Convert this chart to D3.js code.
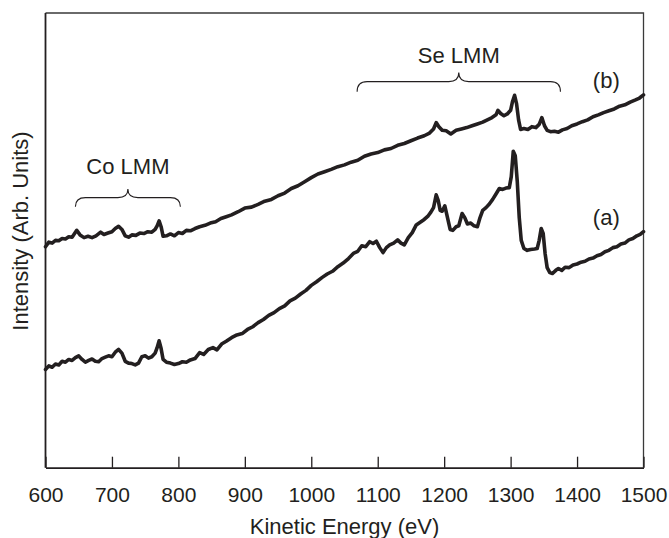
<!DOCTYPE html>
<html>
<head>
<meta charset="utf-8">
<script src="https://cdn.jsdelivr.net/npm/d3@7/dist/d3.min.js"></script>
<style>
  html, body { margin: 0; padding: 0; background: #fff; }
  svg { display: block; }
  text { font-family: "Liberation Sans", Arial, sans-serif; fill: #231f20; }
</style>
</head>
<body>
<svg id="chart" width="669" height="538"></svg>
<script>
// ---- Data (intensity in arbitrary units, 0..100 of the plot height) ----
const xTicks = [600, 700, 800, 900, 1000, 1100, 1200, 1300, 1400, 1500];

// Curve (b) – upper spectrum
const energyB = [600,605,610,615,620,625,630,635,640,647,652,658,664,670,676,683,688,694,700,705,710,715,720,725,730,736,742,748,754,760,765,768,771,774,777,782,788,794,800,806,812,818,825,832,840,848,856,864,872,880,890,900,910,920,930,940,950,960,970,980,990,1000,1010,1020,1030,1040,1050,1060,1070,1080,1090,1100,1110,1120,1130,1140,1150,1160,1170,1178,1184,1188,1192,1197,1203,1210,1218,1226,1234,1242,1250,1258,1265,1272,1278,1281,1285,1290,1295,1300,1303,1306,1309,1312,1315,1320,1326,1332,1338,1343,1347,1351,1355,1360,1366,1372,1378,1385,1392,1400,1408,1416,1424,1432,1440,1448,1456,1464,1472,1480,1488,1494,1500];
const intensityB = [48.6,49.6,49.4,50.0,49.9,50.4,50.3,50.8,50.7,52.2,51.2,50.6,50.9,50.6,51.0,51.8,51.3,51.6,51.9,52.6,53.1,52.4,51.0,50.7,51.2,51.1,51.6,51.5,51.9,51.8,52.4,53.2,54.3,53.0,50.9,51.0,51.4,51.0,51.7,51.5,52.2,52.1,52.6,53.0,53.3,53.8,54.1,54.8,55.2,55.6,56.3,57.1,57.3,57.9,58.6,59.0,59.8,60.4,61.4,62.0,62.9,63.8,64.6,65.1,65.6,66.2,66.6,67.2,67.6,68.5,69.0,69.3,69.9,70.2,70.9,71.3,71.9,72.5,73.0,73.6,74.5,75.9,75.0,74.2,74.1,73.4,74.2,74.5,74.8,75.2,75.6,76.0,76.5,77.0,77.6,78.6,77.9,77.4,77.8,78.6,80.6,81.9,80.0,76.5,74.4,74.6,74.4,75.0,74.8,75.5,77.0,75.2,74.2,73.9,74.0,73.8,74.3,74.6,75.2,75.6,76.1,76.5,77.2,77.6,78.1,78.5,78.9,79.5,79.8,80.4,80.9,81.3,82.0];

// Curve (a) – lower spectrum
const energyA = [600,605,610,615,620,625,630,635,640,645,650,655,660,665,670,675,680,685,690,695,700,705,710,715,720,725,730,735,740,745,750,755,760,765,768,771,774,777,782,788,794,800,806,812,818,825,832,838,845,852,858,865,872,880,888,896,904,912,920,928,936,944,952,960,968,976,984,992,1000,1008,1016,1024,1032,1040,1048,1056,1064,1070,1076,1082,1088,1093,1098,1103,1108,1113,1118,1124,1130,1135,1140,1146,1152,1158,1164,1170,1176,1180,1184,1188,1191,1194,1197,1201,1205,1209,1213,1218,1222,1227,1231,1235,1240,1245,1250,1254,1258,1263,1268,1273,1278,1283,1288,1293,1298,1301,1304,1307,1310,1313,1316,1320,1325,1330,1336,1340,1343,1346,1349,1352,1355,1359,1363,1368,1372,1377,1382,1388,1394,1400,1406,1412,1418,1424,1430,1436,1442,1448,1454,1460,1466,1472,1478,1484,1490,1495,1500];
const intensityA = [21.6,22.4,22.1,22.8,22.6,23.4,23.2,23.8,23.6,24.2,24.6,23.8,23.2,23.6,23.9,23.4,23.3,24.0,24.3,24.6,24.4,25.4,26.0,25.2,23.4,23.0,22.9,22.6,23.0,24.4,24.6,24.1,24.4,25.2,26.4,27.9,26.2,23.8,23.2,23.0,22.7,22.9,23.3,23.2,23.7,24.0,25.3,24.9,26.0,26.4,25.9,27.2,27.8,28.6,29.2,29.5,30.4,31.0,31.9,32.6,33.5,34.1,35.0,35.6,36.7,37.3,38.2,39.0,40.1,40.9,41.8,42.6,43.2,44.2,45.0,46.0,47.2,47.6,48.8,48.6,49.7,49.3,49.8,48.4,47.3,48.4,49.0,49.4,50.1,49.4,49.0,50.6,51.7,53.4,54.0,54.6,55.4,56.2,57.2,60.0,58.8,56.6,56.4,57.6,55.0,52.4,52.2,53.0,53.2,55.9,55.0,53.6,53.8,53.2,53.0,55.0,56.6,57.2,58.0,59.0,60.2,61.4,61.2,61.5,61.6,64.0,69.6,68.6,63.0,55.0,50.0,48.2,47.8,48.0,48.1,48.2,50.0,52.6,51.5,47.0,44.0,42.9,42.7,43.4,43.8,43.4,44.1,44.0,44.6,44.8,45.2,45.4,45.9,46.1,46.6,46.9,47.5,47.8,48.4,48.6,49.2,49.4,50.1,50.4,51.0,51.3,51.9];

const seriesLabels = ["(a)", "(b)"];
const regionLabels = ["Co LMM", "Se LMM"];
const regionRanges = [[645, 803], [1069, 1375]];
const xTitle = "Kinetic Energy (eV)";
const yTitle = "Intensity (Arb. Units)";

// ---- Layout ----
const svg = d3.select("#chart");
const L = 45.5, R = 643.5, T = 13, B = 467.7;
const x = d3.scaleLinear().domain([600, 1500]).range([L, R]);
const y = d3.scaleLinear().domain([0, 100]).range([B, T]);
const ink = "#231f20";

// Frame (top/right)
svg.append("path")
  .attr("d", `M${L},${T}H${R}V${B}`)
  .attr("fill", "none").attr("stroke", "#3a3a3a").attr("stroke-width", 1.3);
// Left axis line
svg.append("line")
  .attr("x1", L).attr("x2", L).attr("y1", T).attr("y2", B)
  .attr("stroke", ink).attr("stroke-width", 1.8);

// Bottom axis
const xAxis = d3.axisBottom(x).tickValues(xTicks).tickFormat(d3.format("d"))
  .tickSizeInner(-11).tickSizeOuter(0).tickPadding(19);
const gx = svg.append("g").attr("transform", `translate(0,${B})`).call(xAxis);
gx.select(".domain").attr("stroke", ink).attr("stroke-width", 1.8);
gx.selectAll(".tick line").attr("stroke", ink).attr("stroke-width", 1.3);
gx.selectAll(".tick text")
  .attr("font-family", '"Liberation Sans", Arial, sans-serif')
  .attr("font-size", 21).attr("fill", ink);

// Curves
const line = d3.line().x(d => x(d[0])).y(d => y(d[1])).curve(d3.curveLinear);
const dataA = energyA.map((e, i) => [e, intensityA[i]]);
const dataB = energyB.map((e, i) => [e, intensityB[i]]);
[dataA, dataB].forEach(d => {
  svg.append("path").datum(d).attr("d", line)
    .attr("fill", "none").attr("stroke", ink)
    .attr("stroke-width", 3.6).attr("stroke-linejoin", "round").attr("stroke-linecap", "round");
});

// Braces
function brace(x1, x2, yEnd, yLine, yTop) {
  const xc = (x1 + x2) / 2, r = 10;
  return `M${x1},${yEnd} Q${x1},${yLine} ${x1 + r},${yLine} L${xc - r},${yLine} Q${xc},${yLine} ${xc},${yTop}` +
         ` Q${xc},${yLine} ${xc + r},${yLine} L${x2 - r},${yLine} Q${x2},${yLine} ${x2},${yEnd}`;
}
const braceY = [[57.4, 59.4, 61.3, 64.6], [82.7, 84.9, 86.9, 88.9]];
regionRanges.forEach((rg, i) => {
  const [yEnd, yLine, yTop, yText] = braceY[i];
  svg.append("path")
    .attr("d", brace(x(rg[0]), x(rg[1]), y(yEnd), y(yLine), y(yTop)))
    .attr("fill", "none").attr("stroke", ink).attr("stroke-width", 1.1);
  svg.append("text")
    .attr("x", x((rg[0] + rg[1]) / 2)).attr("y", y(yText))
    .attr("text-anchor", "middle").attr("font-size", 22)
    .text(regionLabels[i]);
});

// Series labels
const seriesLabelPos = [[1444, 53.4], [1444, 83.4]];
seriesLabels.forEach((t, i) => {
  svg.append("text")
    .attr("x", x(seriesLabelPos[i][0])).attr("y", y(seriesLabelPos[i][1]))
    .attr("text-anchor", "middle").attr("font-size", 22)
    .text(t);
});

// Axis titles
svg.append("text")
  .attr("x", (L + R) / 2).attr("y", 534)
  .attr("text-anchor", "middle").attr("font-size", 22)
  .text(xTitle);
svg.append("text")
  .attr("transform", `translate(28,231) rotate(-90)`)
  .attr("text-anchor", "middle").attr("font-size", 22)
  .text(yTitle);
</script>
</body>
</html>
